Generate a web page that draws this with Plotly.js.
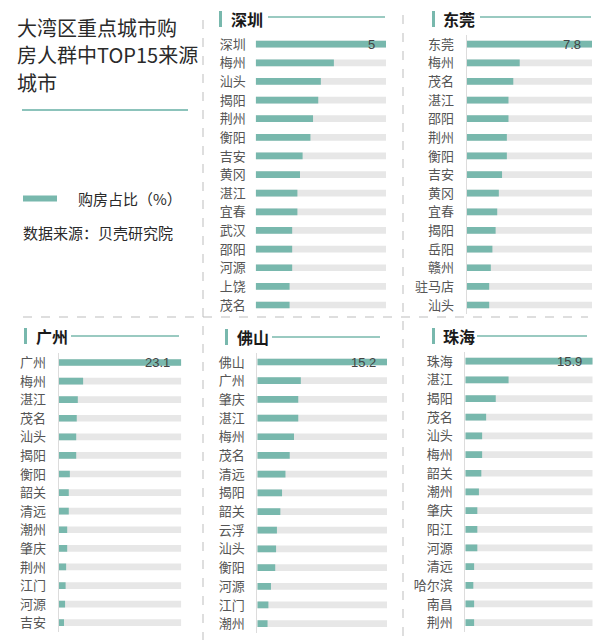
<!DOCTYPE html>
<html>
<head>
<meta charset="utf-8">
<script src="https://cdn.plot.ly/plotly-3.0.1.min.js"></script>
<style>html,body{margin:0;padding:0;background:#fff;}#chart{width:610px;height:640px;}</style>
</head>
<body>
<div id="chart"></div>
<script>
// ---- Data (购房占比 %) ----
const szCities = ["深圳","梅州","汕头","揭阳","荆州","衡阳","吉安","黄冈","湛江","宜春","武汉","邵阳","河源","上饶","茂名"];
const szValues = [5, 3.0, 2.5, 2.4, 2.2, 2.1, 1.8, 1.7, 1.6, 1.6, 1.4, 1.4, 1.4, 1.3, 1.3];

const dgCities = ["东莞","梅州","茂名","湛江","邵阳","荆州","衡阳","吉安","黄冈","宜春","揭阳","岳阳","赣州","驻马店","汕头"];
const dgValues = [7.8, 3.3, 2.9, 2.6, 2.6, 2.5, 2.5, 2.2, 2.0, 1.9, 1.8, 1.6, 1.5, 1.4, 1.4];

const gzCities = ["广州","梅州","湛江","茂名","汕头","揭阳","衡阳","韶关","清远","潮州","肇庆","荆州","江门","河源","吉安"];
const gzValues = [23.1, 4.6, 3.6, 3.4, 3.3, 3.3, 2.1, 1.9, 1.9, 1.6, 1.6, 1.4, 1.3, 1.2, 1.0];

const fsCities = ["佛山","广州","肇庆","湛江","梅州","茂名","清远","揭阳","韶关","云浮","汕头","衡阳","河源","江门","潮州"];
const fsValues = [15.2, 5.1, 4.8, 4.8, 4.3, 3.8, 3.3, 2.9, 2.7, 2.3, 2.2, 2.1, 1.6, 1.3, 1.2];

const zhCities = ["珠海","湛江","揭阳","茂名","汕头","梅州","韶关","潮州","肇庆","阳江","河源","清远","哈尔滨","南昌","荆州"];
const zhValues = [15.9, 5.4, 3.8, 2.6, 2.1, 2.1, 2.0, 1.7, 1.5, 1.5, 1.5, 1.1, 1.0, 1.1, 1.1];

const panelNames = ["深圳","东莞","广州","佛山","珠海"];
const titleLines = ["大湾区重点城市购","房人群中TOP15来源","城市"];
const legendLabel = "购房占比（%）";
const sourceText = "数据来源：贝壳研究院";

// ---- Styles ----
const W = 610, H = 640;
const TEAL = "#78b8ad";
const GREY = "#e7e7e7";
const FONT = "Noto Sans CJK SC";
const px = v => v / W;
const py = v => 1 - v / H;

const panels = [
  {name: panelNames[0], cities: szCities, values: szValues, x0: 255.7, x1: 386, y0: 34.7, y1: 314.3, axisLine: false,
   bar: [219, 222, 11, 27], title: [229, 19], line: [268, 385, 17]},
  {name: panelNames[1], cities: dgCities, values: dgValues, x0: 466.7, x1: 592, y0: 34.7, y1: 314.3, axisLine: true,
   bar: [432, 435, 11, 27], title: [441, 19], line: [480, 591, 17]},
  {name: panelNames[2], cities: gzCities, values: gzValues, x0: 58.7, x1: 181.3, y0: 353, y1: 632, axisLine: true,
   bar: [24, 27, 328, 344], title: [34, 336], line: [71, 179, 336]},
  {name: panelNames[3], cities: fsCities, values: fsValues, x0: 257.3, x1: 387, y0: 352.5, y1: 633, axisLine: true,
   bar: [225, 228, 329, 345], title: [235, 337], line: [272, 380, 337]},
  {name: panelNames[4], cities: zhCities, values: zhValues, x0: 465.3, x1: 592.7, y0: 351.7, y1: 632, axisLine: true,
   bar: [432, 435, 328, 344], title: [441, 336], line: [477, 587, 336]}
];

const traces = [];
const layout = {
  width: W, height: H,
  margin: {l: 0, r: 0, t: 0, b: 0},
  paper_bgcolor: "#fff", plot_bgcolor: "rgba(0,0,0,0)",
  barmode: "overlay",
  showlegend: false,
  font: {family: FONT, color: "#555"},
  shapes: [], annotations: []
};

panels.forEach((p, i) => {
  const n = i + 1;
  const xa = "x" + (n === 1 ? "" : n), ya = "y" + (n === 1 ? "" : n);
  const xk = "xaxis" + (n === 1 ? "" : n), yk = "yaxis" + (n === 1 ? "" : n);
  const maxV = Math.max(...p.values);
  traces.push({
    type: "bar", orientation: "h", x: p.cities.map(() => maxV), y: p.cities,
    xaxis: xa, yaxis: ya, marker: {color: GREY}, width: 0.36, hoverinfo: "skip"
  });
  traces.push({
    type: "bar", orientation: "h", x: p.values, y: p.cities,
    xaxis: xa, yaxis: ya, marker: {color: TEAL}, width: 0.36, name: legendLabel
  });
  layout[xk] = {domain: [px(p.x0), px(p.x1)], range: [0, maxV], anchor: ya,
    showgrid: false, zeroline: false, showticklabels: false, ticks: "", fixedrange: true};
  layout[yk] = {domain: [py(p.y1), py(p.y0)], anchor: xa, type: "category",
    categoryorder: "array", categoryarray: p.cities, autorange: "reversed",
    showgrid: false, zeroline: false, ticks: "", ticklabelstandoff: 9,
    showline: p.axisLine, linecolor: "#dcdcdc", linewidth: 1,
    tickfont: {family: FONT, size: 13, color: "#555"}, fixedrange: true};
  // value label on the top bar
  layout.annotations.push({
    xref: xa, yref: ya, x: p.values[0], y: p.cities[0], text: String(p.values[0]),
    xanchor: "right", yanchor: "middle", xshift: -9, showarrow: false,
    font: {family: "Liberation Sans, Arial, sans-serif", size: 13, color: "#444"}
  });
  // header
  layout.shapes.push({type: "rect", xref: "paper", yref: "paper",
    x0: px(p.bar[0]), x1: px(p.bar[1]), y0: py(p.bar[3]), y1: py(p.bar[2]),
    fillcolor: TEAL, line: {width: 0}});
  layout.shapes.push({type: "line", xref: "paper", yref: "paper",
    x0: px(p.line[0]), x1: px(p.line[1]), y0: py(p.line[2]), y1: py(p.line[2]),
    line: {color: TEAL, width: 1.5}});
  layout.annotations.push({xref: "paper", yref: "paper", x: px(p.title[0]), y: py(p.title[1]),
    text: p.name, xanchor: "left", yanchor: "middle", showarrow: false,
    font: {family: FONT, size: 16, color: "#1a1a1a", weight: "bold"}});
});

// dashed separators
const dash = {color: "#bdbdbd", width: 1, dash: "dash"};
layout.shapes.push({type: "line", xref: "paper", yref: "paper", x0: px(203), x1: px(203), y0: py(20), y1: 0, line: dash});
layout.shapes.push({type: "line", xref: "paper", yref: "paper", x0: px(403), x1: px(403), y0: py(15), y1: 0, line: dash});
layout.shapes.push({type: "line", xref: "paper", yref: "paper", x0: px(23), x1: px(588), y0: py(317), y1: py(317), line: dash});

// title block
titleLines.forEach((t, k) => {
  layout.annotations.push({xref: "paper", yref: "paper", x: px(16), y: py(27 + k * 27.5),
    text: t, xanchor: "left", yanchor: "middle", showarrow: false, borderpad: 0,
    font: {family: FONT, size: 20, color: "#2a2a2a"}});
});
layout.shapes.push({type: "line", xref: "paper", yref: "paper", x0: px(22), x1: px(188), y0: py(110), y1: py(110),
  line: {color: "#8cc3bb", width: 2}});
// legend
layout.shapes.push({type: "rect", xref: "paper", yref: "paper", x0: px(23), x1: px(57), y0: py(201.5), y1: py(195.5),
  fillcolor: TEAL, line: {width: 0}});
layout.annotations.push({xref: "paper", yref: "paper", x: px(76), y: py(198.5), text: legendLabel,
  xanchor: "left", yanchor: "middle", showarrow: false, font: {family: FONT, size: 15, color: "#2a2a2a"}});
layout.annotations.push({xref: "paper", yref: "paper", x: px(21), y: py(233), text: sourceText,
  xanchor: "left", yanchor: "middle", showarrow: false, font: {family: FONT, size: 15, color: "#2a2a2a"}});

Plotly.newPlot("chart", traces, layout, {displayModeBar: false, staticPlot: true});
</script>
</body>
</html>
